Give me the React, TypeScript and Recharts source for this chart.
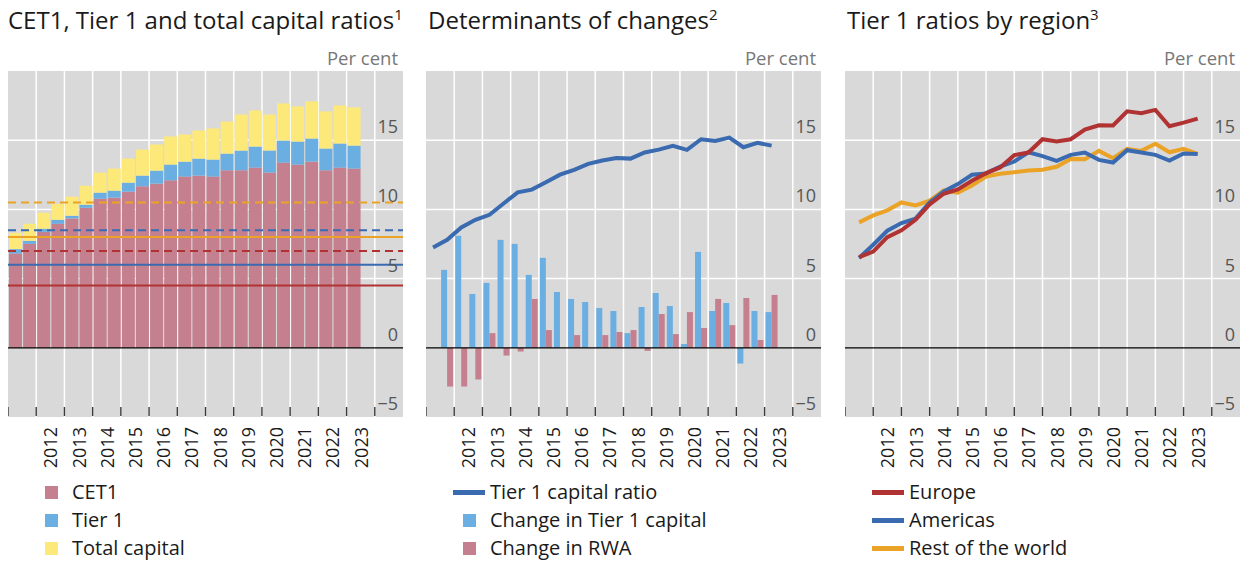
import React from 'react';
import { ComposedChart, LineChart, Bar, Line, XAxis, YAxis, CartesianGrid, ReferenceLine } from 'recharts';

// ---------- data ----------
const periods = [
  '2011 H1', '2011 H2', '2012 H1', '2012 H2', '2013 H1', '2013 H2', '2014 H1', '2014 H2',
  '2015 H1', '2015 H2', '2016 H1', '2016 H2', '2017 H1', '2017 H2', '2018 H1', '2018 H2',
  '2019 H1', '2019 H2', '2020 H1', '2020 H2', '2021 H1', '2021 H2', '2022 H1', '2022 H2', '2023 H1',
];
const yearLabels = ['2012', '2013', '2014', '2015', '2016', '2017', '2018', '2019', '2020', '2021', '2022', '2023'];
const yTicks = [-5, 0, 5, 10, 15, 20];
const yLabelTicks = [-5, 0, 5, 10, 15];

// Panel 1
const cet1 = [6.81, 7.51, 8.38, 8.96, 9.35, 10.12, 10.77, 10.85, 11.28, 11.67, 11.86, 12.1, 12.37, 12.44, 12.37, 12.83, 12.83, 13.02, 12.66, 13.38, 13.24, 13.45, 12.83, 13.02, 12.95];
const tier1 = [7.13, 7.73, 8.6, 9.25, 9.54, 10.34, 11.21, 11.35, 11.93, 12.44, 12.8, 13.24, 13.45, 13.67, 13.6, 14.03, 14.25, 14.54, 14.25, 14.98, 14.9, 15.12, 14.4, 14.76, 14.61];
const totalCapital = [8.31, 8.96, 9.76, 10.39, 10.92, 11.71, 12.66, 12.95, 13.67, 14.32, 14.69, 15.27, 15.41, 15.7, 15.85, 16.35, 16.86, 17.15, 16.86, 17.66, 17.44, 17.8, 17.08, 17.51, 17.37];
const cet1Minimum = 4.5;
const cet1WithBuffer = 7.0;
const tier1Minimum = 6.0;
const tier1WithBuffer = 8.5;
const totalMinimum = 8.0;
const totalWithBuffer = 10.5;

// Panel 2
const tier1CapitalRatio = [7.25, 7.8, 8.7, 9.25, 9.61, 10.43, 11.23, 11.43, 11.96, 12.51, 12.85, 13.29, 13.53, 13.72, 13.67, 14.11, 14.32, 14.59, 14.3, 15.07, 14.95, 15.19, 14.49, 14.81, 14.61];
const changeTier1Capital = [null, 5.63, 8.09, 3.89, 4.69, 7.8, 7.51, 5.27, 6.5, 4.03, 3.53, 3.31, 2.87, 2.66, 1.06, 2.95, 3.96, 3.02, 0.27, 6.93, 2.66, 3.24, -1.14, 2.66, 2.58];
const changeRwa = [null, -2.8, -2.8, -2.29, 1.06, -0.56, -0.27, 3.53, 1.28, 0, 0.92, 0, 0.92, 1.14, 1.28, -0.22, 2.44, 0.99, 2.58, 1.43, 3.53, 1.64, 3.6, 0.56, 3.82];

// Panel 3
const europe = [6.56, 6.95, 8.0, 8.49, 9.25, 10.36, 11.13, 11.44, 12.07, 12.62, 13.03, 13.92, 14.11, 15.07, 14.9, 15.07, 15.77, 16.08, 16.06, 17.09, 16.95, 17.19, 16.01, 16.27, 16.56];
const americas = [6.49, 7.45, 8.46, 9.01, 9.33, 10.5, 11.3, 11.83, 12.5, 12.6, 13.1, 13.46, 14.13, 13.85, 13.51, 13.94, 14.11, 13.58, 13.39, 14.28, 14.11, 13.94, 13.53, 14.04, 14.01];
const restOfWorld = [9.06, 9.57, 9.93, 10.5, 10.29, 10.63, 11.37, 11.2, 11.73, 12.38, 12.57, 12.69, 12.81, 12.86, 13.08, 13.65, 13.63, 14.23, 13.7, 14.38, 14.23, 14.74, 14.13, 14.38, 14.01];

// ---------- derived tables ----------
const halfYearSlots = 28; // 2011 .. 2024, two half-years each
const xTicks = Array.from({ length: halfYearSlots + 1 }, (_, i) => i);
const yearBoundaries = xTicks.filter((t) => t % 2 === 0 && t > 0 && t < halfYearSlots);

const panel1Data = periods.map((p, i) => ({
  period: p,
  x: i + 0.5,
  cet1: cet1[i],
  tier1Add: +(tier1[i] - cet1[i]).toFixed(2),
  totalAdd: +(totalCapital[i] - tier1[i]).toFixed(2),
}));
const panel2Data = periods.map((p, i) => ({
  period: p,
  x: i + 0.5,
  ratio: tier1CapitalRatio[i],
  capital: changeTier1Capital[i],
  rwa: changeRwa[i],
}));
const panel3Data = periods.map((p, i) => ({
  period: p,
  x: i + 1,
  europe: europe[i],
  americas: americas[i],
  row: restOfWorld[i],
}));

// ---------- styles ----------
const FONT = '"Open Sans", "Noto Sans", sans-serif';
const C = {
  bg: '#d9d9d9',
  pink: '#c4808f',
  lightBlue: '#6aaee2',
  yellow: '#fde97a',
  red: '#b03232',
  blue: '#3a6aaf',
  orange: '#eba327',
  text: '#1a1a1a',
  tick: '#555555',
};

const PLOT_TOP = 71;
const PLOT_BOTTOM = 417;
const PLOT_W = 395;
const CHART_H = 563;
const panelLefts = [8, 426, 845];

const XTick = (props: any) => {
  const { x, y, payload } = props;
  const v = payload.value as number;
  if (v % 2 === 0) {
    if (v >= halfYearSlots) return null;
    return <line x1={x} x2={x} y1={y - 10} y2={y - 1} stroke="#3a3a3a" strokeWidth={1.4} />;
  }
  const label = yearLabels[(v - 3) / 2];
  if (!label) return null;
  const ty = y + 10;
  return (
    <text
      x={x}
      y={ty}
      transform={`rotate(-90, ${x}, ${ty})`}
      textAnchor="end"
      dominantBaseline="central"
      fontFamily={FONT}
      fontSize={18}
      fill={C.text}
    >
      {label}
    </text>
  );
};

const YLabel = (props: any) => {
  const { viewBox, value } = props;
  if (!viewBox) return null;
  const v = value as number;
  const txt = v < 0 ? `\u2212${Math.abs(v)}` : `${v}`;
  return (
    <text
      x={viewBox.x + viewBox.width - 5}
      y={viewBox.y - 7}
      textAnchor="end"
      fontFamily={FONT}
      fontSize={18}
      fill={C.tick}
    >
      {txt}
    </text>
  );
};

const chartMargin = { top: PLOT_TOP, right: 0, bottom: CHART_H - PLOT_BOTTOM - 60, left: 0 };

const commonAxes = () => [
  <CartesianGrid
    key="grid"
    fill={C.bg}
    fillOpacity={1}
    stroke="#ffffff"
    strokeWidth={1.5}
    verticalValues={yearBoundaries}
    horizontalValues={[5, 10, 15]}
  />,
  <XAxis
    key="x"
    dataKey="x"
    type="number"
    domain={[0, halfYearSlots]}
    ticks={xTicks}
    interval={0}
    allowDataOverflow
    axisLine={false}
    tickLine={false}
    tickSize={0}
    tickMargin={0}
    height={60}
    tick={<XTick />}
  />,
  <YAxis
    key="y"
    type="number"
    hide
    domain={[-5, 20]}
    ticks={yTicks}
    allowDataOverflow
  />,
];

const yLabels = () =>
  yLabelTicks.map((v) => (
    <ReferenceLine key={`yl${v}`} y={v} stroke="none" label={<YLabel value={v} />} />
  ));

const Title = ({ left, text, note }: { left: number; text: string; note: string }) => (
  <div
    style={{
      position: 'absolute',
      left,
      top: 8,
      fontFamily: FONT,
      fontSize: 24,
      lineHeight: '24px',
      color: C.text,
      whiteSpace: 'nowrap',
    }}
  >
    {text}
    <span style={{ fontSize: 15, position: 'relative', top: -9 }}>{note}</span>
  </div>
);

const PerCent = ({ left }: { left: number }) => (
  <div
    style={{
      position: 'absolute',
      left: left + PLOT_W - 205,
      width: 200,
      top: 49,
      textAlign: 'right',
      fontFamily: FONT,
      fontSize: 18.5,
      lineHeight: '18px',
      color: '#777777',
    }}
  >
    Per cent
  </div>
);

type LegendItem = { label: string; color: string; kind: 'square' | 'line' };

const LegendBlock = ({ left, items }: { left: number; items: LegendItem[] }) => (
  <div style={{ position: 'absolute', left, top: 477.5 }}>
    {items.map((it) => (
      <div key={it.label} style={{ position: 'relative', height: 28, width: 380 }}>
        {it.kind === 'square' ? (
          <div
            style={{ position: 'absolute', left: 37, top: 8, width: 13, height: 13, background: it.color }}
          />
        ) : (
          <div
            style={{ position: 'absolute', left: 27, top: 12.5, width: 32, height: 4.5, background: it.color }}
          />
        )}
        <div
          style={{
            position: 'absolute',
            left: 64,
            top: 0,
            fontFamily: FONT,
            fontSize: 20,
            lineHeight: '28px',
            color: C.text,
            whiteSpace: 'nowrap',
          }}
        >
          {it.label}
        </div>
      </div>
    ))}
  </div>
);

export default function App() {
  return (
    <div style={{ position: 'absolute', left: 0, top: 0, width: 1254, height: 563, background: '#fff' }}>
      <Title left={panelLefts[0]} text="CET1, Tier 1 and total capital ratios" note="1" />
      <Title left={panelLefts[1] + 2} text="Determinants of changes" note="2" />
      <Title left={panelLefts[2] + 2} text="Tier 1 ratios by region" note="3" />
      {panelLefts.map((l) => (
        <PerCent key={l} left={l} />
      ))}

      <div style={{ position: 'absolute', left: panelLefts[0], top: 0 }}>
        <ComposedChart width={PLOT_W} height={CHART_H} data={panel1Data} margin={chartMargin}>
          {commonAxes()}
          <Bar dataKey="cet1" stackId="a" fill={C.pink} barSize={13} isAnimationActive={false} />
          <Bar dataKey="tier1Add" stackId="a" fill={C.lightBlue} barSize={13} isAnimationActive={false} />
          <Bar dataKey="totalAdd" stackId="a" fill={C.yellow} barSize={13} isAnimationActive={false} />
          <ReferenceLine y={0} stroke="#000" strokeWidth={1.3} />
          <ReferenceLine y={totalWithBuffer} stroke={C.orange} strokeWidth={2} strokeDasharray="8 5" />
          <ReferenceLine y={tier1WithBuffer} stroke={C.blue} strokeWidth={2} strokeDasharray="8 5" />
          <ReferenceLine y={totalMinimum} stroke={C.orange} strokeWidth={2} />
          <ReferenceLine y={cet1WithBuffer} stroke={C.red} strokeWidth={2} strokeDasharray="8 5" />
          <ReferenceLine y={tier1Minimum} stroke={C.blue} strokeWidth={2} />
          <ReferenceLine y={cet1Minimum} stroke={C.red} strokeWidth={2} />
          {yLabels()}
        </ComposedChart>
      </div>

      <div style={{ position: 'absolute', left: panelLefts[1], top: 0 }}>
        <ComposedChart width={PLOT_W} height={CHART_H} data={panel2Data} margin={chartMargin} barGap={0}>
          {commonAxes()}
          <Bar dataKey="capital" fill={C.lightBlue} barSize={6} isAnimationActive={false} />
          <Bar dataKey="rwa" fill={C.pink} barSize={6} isAnimationActive={false} />
          <ReferenceLine y={0} stroke="#000" strokeWidth={1.3} />
          <Line
            dataKey="ratio"
            stroke={C.blue}
            strokeWidth={4}
            dot={false}
            activeDot={false}
            isAnimationActive={false}
          />
          {yLabels()}
        </ComposedChart>
      </div>

      <div style={{ position: 'absolute', left: panelLefts[2], top: 0 }}>
        <LineChart width={PLOT_W} height={CHART_H} data={panel3Data} margin={chartMargin}>
          {commonAxes()}
          <ReferenceLine y={0} stroke="#000" strokeWidth={1.3} />
          <Line dataKey="row" stroke={C.orange} strokeWidth={4} dot={false} activeDot={false} isAnimationActive={false} />
          <Line dataKey="americas" stroke={C.blue} strokeWidth={4} dot={false} activeDot={false} isAnimationActive={false} />
          <Line dataKey="europe" stroke={C.red} strokeWidth={4} dot={false} activeDot={false} isAnimationActive={false} />
          {yLabels()}
        </LineChart>
      </div>

      <LegendBlock
        left={panelLefts[0]}
        items={[
          { label: 'CET1', color: C.pink, kind: 'square' },
          { label: 'Tier 1', color: C.lightBlue, kind: 'square' },
          { label: 'Total capital', color: C.yellow, kind: 'square' },
        ]}
      />
      <LegendBlock
        left={panelLefts[1]}
        items={[
          { label: 'Tier 1 capital ratio', color: C.blue, kind: 'line' },
          { label: 'Change in Tier 1 capital', color: C.lightBlue, kind: 'square' },
          { label: 'Change in RWA', color: C.pink, kind: 'square' },
        ]}
      />
      <LegendBlock
        left={panelLefts[2]}
        items={[
          { label: 'Europe', color: C.red, kind: 'line' },
          { label: 'Americas', color: C.blue, kind: 'line' },
          { label: 'Rest of the world', color: C.orange, kind: 'line' },
        ]}
      />
    </div>
  );
}
